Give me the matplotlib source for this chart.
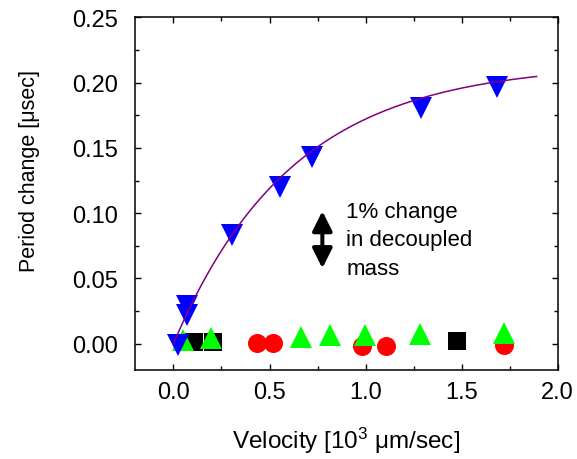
import numpy as np
import matplotlib
matplotlib.use('Agg')
import matplotlib.pyplot as plt
from matplotlib.ticker import MultipleLocator

plt.rcParams['font.family'] = ['Liberation Sans', 'DejaVu Sans']
plt.rcParams['mathtext.fontset'] = 'custom'
plt.rcParams['mathtext.rm'] = 'Liberation Sans'
plt.rcParams['mathtext.default'] = 'regular'

# measured period changes, velocity in 10^3 um/sec
blue_v = [0.024, 0.07, 0.07, 0.305, 0.554, 0.72, 1.29, 1.685]
blue_dp = [-0.001, 0.029, 0.022, 0.083, 0.120, 0.143, 0.181, 0.197]

green_v = [0.049, 0.196, 0.663, 0.813, 0.998, 1.284, 1.72]
green_dp = [0.003, 0.004, 0.0054, 0.0064, 0.0069, 0.0077, 0.0082]

red_v = [0.433, 0.516, 0.983, 1.107, 1.72]
red_dp = [0.0008, 0.0008, -0.0018, -0.0018, -0.0008]

black_v = [0.105, 0.206, 1.476]
black_dp = [0.0013, 0.0013, 0.0018]

# saturating exponential fit to the blue series
fit_amp = 0.215
fit_tau = 0.62
fit_vmax = 1.89

fig = plt.figure(figsize=(5.77, 4.6), dpi=100)
ax = fig.add_axes([0.234, 0.194, 0.7326, 0.7658])

ax.plot(black_v, black_dp, 's', color='black', ms=12.5, mew=0, zorder=2)
ax.plot(red_v, red_dp, 'o', color='red', ms=13.7, mew=0, zorder=3)
ax.plot(green_v, green_dp, '^', color='#00ff00', ms=16.5, mew=0, zorder=4)
ax.plot(blue_v, blue_dp, 'v', color='blue', ms=16.5, mew=0, zorder=5)

v_fit = np.linspace(0, fit_vmax, 200)
ax.plot(v_fit, fit_amp * (1 - np.exp(-v_fit / fit_tau)), color='purple',
        lw=1.1, zorder=6)

# scale bar for a 1% change in decoupled mass
ax.annotate('', xy=(0.775, 0.0578), xytext=(0.775, 0.1016),
            arrowprops=dict(arrowstyle='<|-|>,head_length=1.2,head_width=0.6',
                            mutation_scale=10, lw=2.9, color='black',
                            shrinkA=0, shrinkB=0))
ax.text(0.9, 0.1095, '1% change\nin decoupled\nmass', fontsize=16,
        ha='left', va='top', linespacing=1.47)

ax.set_xlim(-0.2, 2.0)
ax.set_ylim(-0.02, 0.25)
ax.xaxis.set_major_locator(MultipleLocator(0.5))
ax.xaxis.set_minor_locator(MultipleLocator(0.25))
ax.yaxis.set_major_locator(MultipleLocator(0.05))
ax.yaxis.set_minor_locator(MultipleLocator(0.025))
ax.xaxis.set_major_formatter(plt.FuncFormatter(lambda x, p: f'{x:.1f}'))
ax.yaxis.set_major_formatter(plt.FuncFormatter(lambda y, p: f'{y:.2f}'))

ax.tick_params(which='both', direction='in', top=True, right=True, width=1)
ax.tick_params(which='major', length=4.5, labelsize=17)
ax.tick_params(which='minor', length=3)
ax.tick_params(axis='x', pad=8)
ax.tick_params(axis='y', pad=12)
for s in ax.spines.values():
    s.set_linewidth(1.1)

ax.set_xlabel('Velocity [10$^3$ μm/sec]', fontsize=17.5)
ax.set_ylabel('Period change [μsec]', fontsize=15.5)
ax.xaxis.set_label_coords(0.5, -0.157)
ax.yaxis.set_label_coords(-0.224, 0.567)

fig.savefig('out.png', dpi=100)
